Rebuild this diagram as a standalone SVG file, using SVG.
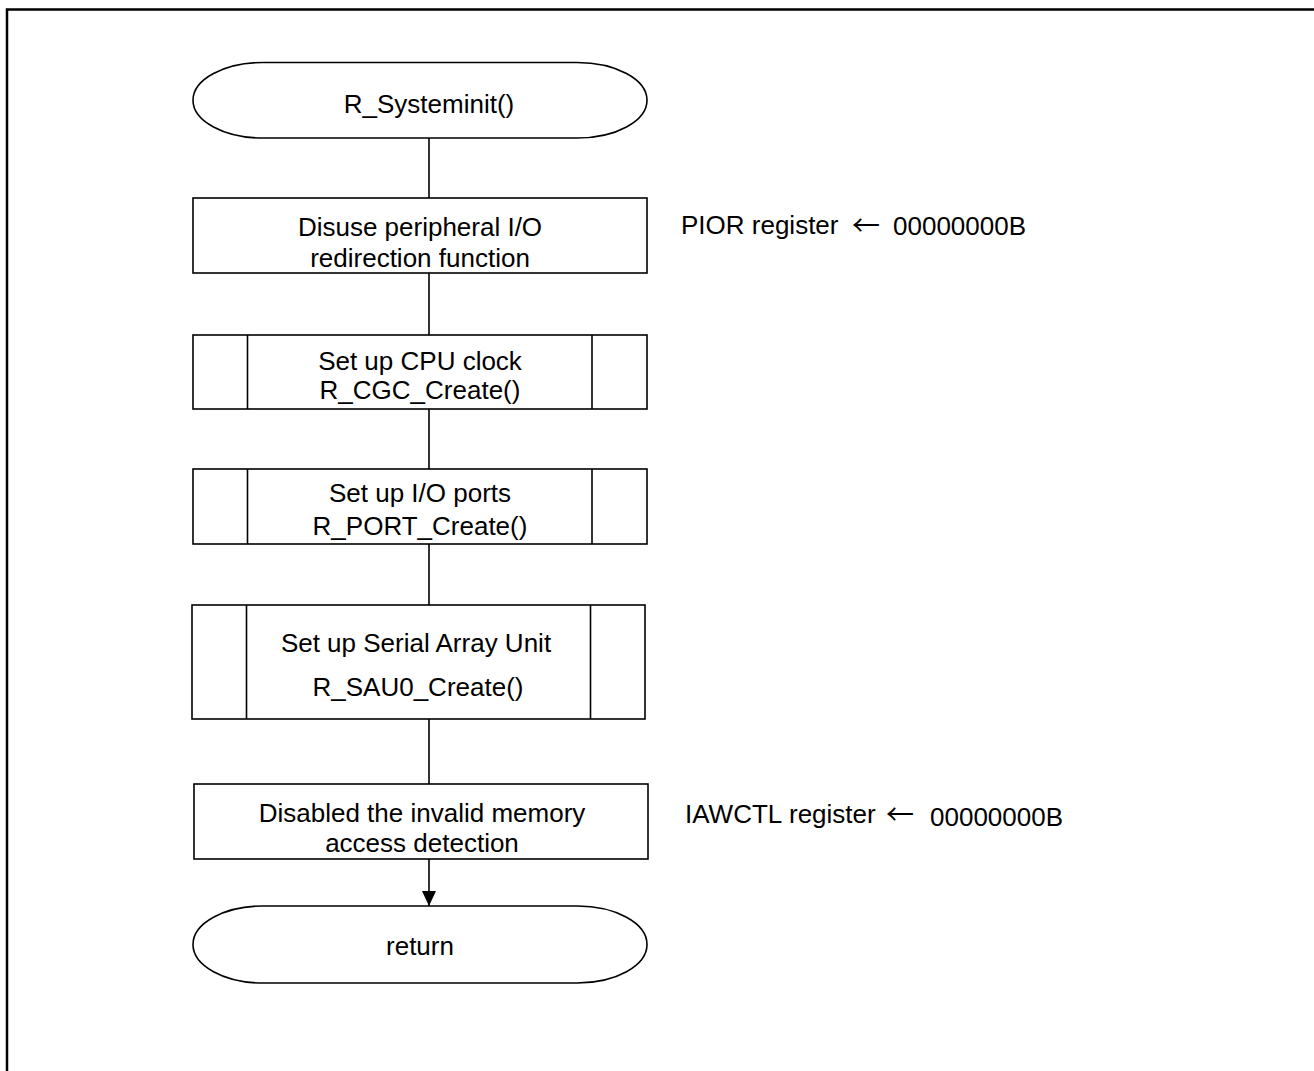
<svg xmlns="http://www.w3.org/2000/svg" width="1314" height="1071" viewBox="0 0 1314 1071">
<style>
  .s{fill:#fff;stroke:#000;stroke-width:1.6}
  .l{stroke:#000;stroke-width:1.6;fill:none}
  text{font-family:"Liberation Sans",Arial,sans-serif;font-size:26px;fill:#000}
  .c{text-anchor:middle}
  .ar{font-family:"Noto Sans CJK JP","DejaVu Sans",sans-serif;font-size:28px}
</style>
<defs>
  <marker id="ah" markerWidth="16" markerHeight="14" refX="15" refY="7" orient="auto" markerUnits="userSpaceOnUse">
    <path d="M0,0 L15,7 L0,14 Z" fill="#000"/>
  </marker>
</defs>
<rect width="1314" height="1071" fill="#fff"/>
<path d="M7,1071 V9.5 H1314" fill="none" stroke="#000" stroke-width="2.5"/>
<g id="connectors">
  <line class="l" x1="429" y1="138" x2="429" y2="198"/>
  <line class="l" x1="429" y1="273" x2="429" y2="335"/>
  <line class="l" x1="429" y1="409" x2="429" y2="469"/>
  <line class="l" x1="429" y1="544" x2="429" y2="605"/>
  <line class="l" x1="429" y1="719" x2="429" y2="784"/>
  <line class="l" x1="429" y1="859" x2="429" y2="906" marker-end="url(#ah)"/>
</g>
<g id="start">
  <rect class="s" x="193" y="62.5" width="454" height="75.5" rx="70" ry="37.75"/>
  <text class="c" x="429" y="113">R_Systeminit()</text>
</g>
<g id="pior">
  <rect class="s" x="193" y="198" width="454" height="75"/>
  <text class="c" x="420" y="236">Disuse peripheral I/O</text>
  <text class="c" x="420" y="267">redirection function</text>
</g>
<g id="cgc">
  <rect class="s" x="193" y="335" width="454" height="74"/>
  <line class="l" x1="247.5" y1="335" x2="247.5" y2="409"/>
  <line class="l" x1="592" y1="335" x2="592" y2="409"/>
  <text class="c" x="420" y="370">Set up CPU clock</text>
  <text class="c" x="420" y="399">R_CGC_Create()</text>
</g>
<g id="port">
  <rect class="s" x="193" y="469" width="454" height="75"/>
  <line class="l" x1="247.5" y1="469" x2="247.5" y2="544"/>
  <line class="l" x1="592" y1="469" x2="592" y2="544"/>
  <text class="c" x="420" y="502">Set up I/O ports</text>
  <text class="c" x="420" y="535">R_PORT_Create()</text>
</g>
<g id="sau">
  <rect class="s" x="192" y="605" width="453" height="114"/>
  <line class="l" x1="246.5" y1="605" x2="246.5" y2="719"/>
  <line class="l" x1="590.5" y1="605" x2="590.5" y2="719"/>
  <text class="c" x="416" y="652">Set up Serial Array Unit</text>
  <text class="c" x="418" y="696">R_SAU0_Create()</text>
</g>
<g id="iawctl">
  <rect class="s" x="194" y="784" width="454" height="75"/>
  <text class="c" x="422" y="822">Disabled the invalid memory</text>
  <text class="c" x="422" y="852">access detection</text>
</g>
<g id="end">
  <rect class="s" x="193" y="906" width="454" height="77" rx="70" ry="38.5"/>
  <text class="c" x="420" y="955">return</text>
</g>
<g id="notes">
  <text x="681" y="234">PIOR register</text>
  <text class="ar" x="852" y="236">←</text>
  <text x="893" y="235">00000000B</text>
  <text x="685" y="823">IAWCTL</text>
  <text x="789" y="823">register</text>
  <text class="ar" x="886" y="825">←</text>
  <text x="930" y="826">00000000B</text>
</g>
</svg>
